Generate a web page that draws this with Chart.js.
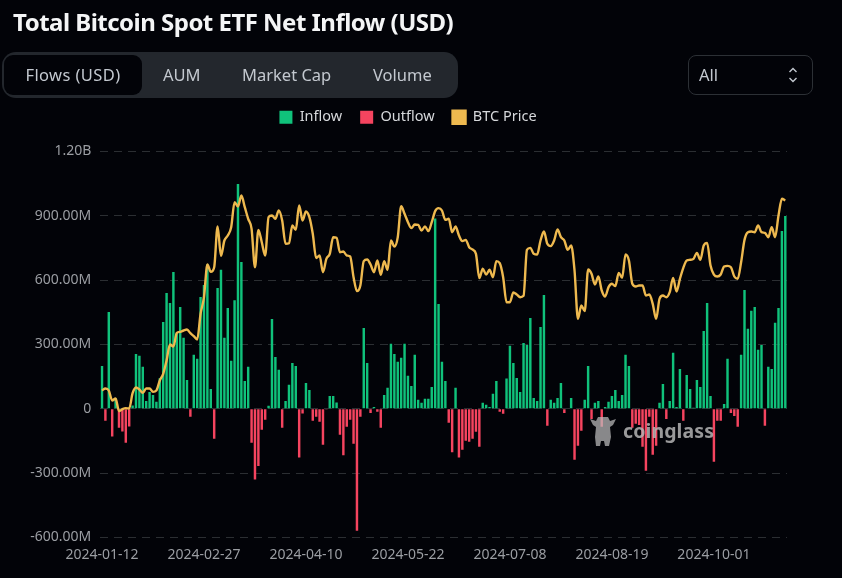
<!DOCTYPE html>
<html>
<head>
<meta charset="utf-8">
<script src="https://cdn.jsdelivr.net/npm/chart.js@4/dist/chart.umd.min.js"></script>
<style>
  html, body { margin: 0; padding: 0; background: #020308; width: 842px; height: 578px; overflow: hidden; font-family: "Noto Sans", sans-serif; }
  #chart { position: absolute; left: 0; top: 0; }
  .title { position: absolute; left: 13px; top: 5px; color: #f4f5f6; font-size: 24px; font-weight: 700; white-space: nowrap; letter-spacing: -0.52px; }
  .tabs { position: absolute; left: 2px; top: 52px; width: 456px; height: 46px; background: #23272d; border-radius: 14px; }
  .tabs span { position: absolute; top: 3px; height: 40px; line-height: 40px; font-size: 16.5px; color: #c3c8cf; white-space: nowrap; }
  .tabs .active { left: 2px; width: 138px; background: #020308; border-radius: 9px; text-align: center; letter-spacing: 0.4px; }
  .select { position: absolute; left: 688px; top: 55px; width: 123px; height: 38px; border: 1px solid #2c3035; border-radius: 8px; color: #c3c8cf; font-size: 16.5px; line-height: 38px; }
  .select span { position: absolute; left: 10px; }
  .select svg { position: absolute; left: 98px; top: 10px; }
  .mark { position: absolute; left: 589px; top: 413px; opacity: 0.72; }
  .markText { position: absolute; left: 623px; top: 417px; color: #b4b4b4; opacity: 0.85; font: 700 19.5px "Noto Sans", sans-serif; letter-spacing: 0.1px; }
</style>
</head>
<body>
<canvas id="chart" width="842" height="578"></canvas>
<div class="title">Total Bitcoin Spot ETF Net Inflow (USD)</div>
<div class="tabs">
  <span class="active">Flows (USD)</span>
  <span style="left:161px">AUM</span>
  <span style="left:240px">Market Cap</span>
  <span style="left:371px">Volume</span>
</div>
<div class="select"><span>All</span>
  <svg width="12" height="18" viewBox="0 0 12 18" fill="none" stroke="#c3c8cf" stroke-width="1.4"><path d="M2.5 6 L6 2.5 L9.5 6"/><path d="M2.5 12 L6 15.5 L9.5 12"/></svg>
</div>
<svg class="mark" width="28" height="36" viewBox="0 0 28 36" fill="#bdbdbd">
  <path d="M1 6 L7 8 L9 4 L19 4 L21 8 L27 6 L24 12 L21 14 L22 24 L20 33 L16 33 L15 28 L12 28 L11 33 L7 33 L6 24 L7 14 L4 12 Z"/>
</svg>
<div class="markText">coinglass</div>

<script>
// Daily net flow in USD millions
const netFlow = [
  200, -56, 452, -129, 50, -88, -106, -158, -82, 15,
  256, 247, 196, 37, 79, 65, 33, 143, 405, 540,
  494, 638, 352, 475, 332, 135, -37, 252, 233, 522,
  578, 674, 93, -140, 564, 648, 331, 470, 224, 506,
  1048, 685, 130, 196, -158, -329, -266, -98, -51, 14,
  419, 242, 182, -88, 37, 112, 214, 200, -227, -22,
  121, 88, -56, -37, -60, -168, -3, 60, 60, 30,
  -121, -217, -84, -51, -163, -568, -37, 377, 214, -19,
  9, -14, -88, 65, 98, 303, 256, 219, 238, 304,
  154, 107, 252, 42, 28, 47, 47, 102, 888, 489,
  219, 130, -65, -202, 98, -227, -191, -149, -154, -140,
  -107, -177, 28, 19, 9, 70, 130, -14, -23, 141,
  294, 214, 144, 79, 307, 298, 424, 51, 37, 382,
  531, -79, 42, 28, 51, 121, -19, 3, 51, -238,
  -172, -102, 42, 200, -47, 28, 37, -84, 9, 33,
  60, 88, 37, 65, 252, 200, -88, -70, -75, -177,
  -289, -37, -214, -172, 28, 116, -47, 37, 261, 9,
  186, -56, 158, 92, 5, 135, 102, 363, 494, 60,
  -247, -56, -56, 23, 233, -19, -33, -84, 252, 554,
  373, 457, 475, 275, 298, -79, 196, 186, 401, 470,
  829, 899
];

const btcPrice = [
  42940, 43290, 42940, 41220, 41570, 39390, 39730, 39900, 39850, 42480,
  43460, 43110, 42540, 43290, 43290, 42710, 42940, 44660, 45810, 48100,
  50850, 50510, 52860, 53030, 53260, 53430, 52800, 52290, 51710, 56130,
  58990, 64610, 63350, 64150, 71150, 66100, 68740, 69600, 71030, 75330,
  74590, 76480, 74470, 72470, 70750, 64150, 70570, 68450, 66160, 72750,
  73040, 72470, 73900, 72180, 68170, 68280, 71320, 70570, 74760, 72180,
  73730, 72750, 69890, 65700, 66160, 63290, 65590, 66450, 69310, 69200,
  66730, 66850, 66160, 65990, 62430, 60030, 61000, 65190, 65470, 64610,
  63290, 65300, 62840, 65190, 63700, 68740, 67710, 69310, 74650, 73330,
  71890, 70860, 71490, 71430, 70460, 71150, 70350, 71890, 73790, 74300,
  73900, 72290, 72470, 70170, 71150, 69600, 68630, 68850, 67590, 67190,
  66450, 62260, 63870, 62890, 63700, 62430, 65190, 64840, 62430, 58130,
  58130, 59800, 59450, 58990, 59220, 67130, 67480, 66450, 66330, 68740,
  70290, 68170, 67770, 68740, 70630, 69310, 68740, 67130, 67880, 63580,
  55270, 57560, 56590, 63750, 63010, 61170, 62550, 60140, 59110, 60710,
  61290, 60890, 63180, 62320, 66330, 65300, 61290, 60830, 61000, 61000,
  59280, 59450, 57850, 55270, 58710, 59280, 58990, 59850, 62320, 59970,
  62150, 64040, 65300, 65420, 65590, 66620, 65420, 67880, 68340, 64440,
  62890, 62550, 62890, 64270, 64380, 64150, 62550, 62150, 65010, 68850,
  70170, 70290, 70170, 71320, 70170, 70050, 69310, 71030, 69310, 73040,
  75910, 75620
];

const tickDates = ['2024-01-12', '2024-02-27', '2024-04-10', '2024-05-22', '2024-07-08', '2024-08-19', '2024-10-01'];
const tickEvery = 30;
const flowTicks = { 1200: '1.20B', 900: '900.00M', 600: '600.00M', 300: '300.00M', 0: '0', '-300': '-300.00M', '-600': '-600.00M' };

const categories = netFlow.map((_, i) => i);
const inflow = netFlow.map(v => (v > 0 ? v : null));
const outflow = netFlow.map(v => (v < 0 ? v : null));

const GREEN = '#10c27b';
const RED = '#f5445f';
const GOLD = '#eeb94f';
const AXIS_TEXT = '#9b9ea3';
const AXIS_FONT = { family: '"Noto Sans", sans-serif', size: 14 };

// Push the plot down below the legend, the area has to start at the 1.20B line
const legendGap = {
    id: 'legendGap',
    beforeInit(chart) {
        const fit = chart.legend.fit;
        chart.legend.fit = function () {
            fit.call(this);
            this.height += 17;
        };
    },
};

new Chart(document.getElementById('chart'), {
    data: {
        labels: categories,
        datasets: [
            { type: 'line', label: 'BTC Price', data: btcPrice, yAxisID: 'price', borderColor: GOLD, backgroundColor: GOLD, borderWidth: 2.4, pointRadius: 0, cubicInterpolationMode: 'monotone', order: 0 },
            { type: 'bar', label: 'Inflow', data: inflow, yAxisID: 'y', backgroundColor: GREEN, barPercentage: 0.72, categoryPercentage: 1, order: 1 },
            { type: 'bar', label: 'Outflow', data: outflow, yAxisID: 'y', backgroundColor: RED, barPercentage: 0.72, categoryPercentage: 1, order: 2 },
        ],
    },
    options: {
        responsive: false,
        animation: false,
        layout: { padding: { left: 29, right: 55, top: 92, bottom: 0 } },
        plugins: {
            tooltip: { enabled: false },
            legend: {
                position: 'top',
                labels: {
                    boxWidth: 13,
                    boxHeight: 13,
                    padding: 18,
                    color: '#d6d8db',
                    font: { family: '"Noto Sans", sans-serif', size: 14.5 },
                    sort: (a, b) => ['Inflow', 'Outflow', 'BTC Price'].indexOf(a.text) - ['Inflow', 'Outflow', 'BTC Price'].indexOf(b.text),
                },
            },
        },
        scales: {
            x: {
                stacked: true,
                grid: { display: false },
                border: { display: false },
                afterFit: (scale) => { scale.height = 40.5; },
                ticks: {
                    color: AXIS_TEXT,
                    font: AXIS_FONT,
                    autoSkip: false,
                    maxRotation: 0,
                    padding: 1,
                    callback: (v, i) => (i % tickEvery === 0 ? tickDates[i / tickEvery] : ''),
                },
            },
            y: {
                stacked: true,
                min: -600,
                max: 1200,
                afterFit: (scale) => { scale.width = 71.3; },
                grid: { color: '#2b2e32', drawTicks: false },
                border: { display: false, dash: [8, 6] },
                ticks: {
                    stepSize: 300,
                    color: AXIS_TEXT,
                    font: AXIS_FONT,
                    padding: 9,
                    callback: (v) => flowTicks[v],
                },
            },
            // the price axis is not shown in the reference
            price: { display: false, min: 17656, max: 84048 },
        },
    },
    plugins: [legendGap],
});
</script>
</body>
</html>
